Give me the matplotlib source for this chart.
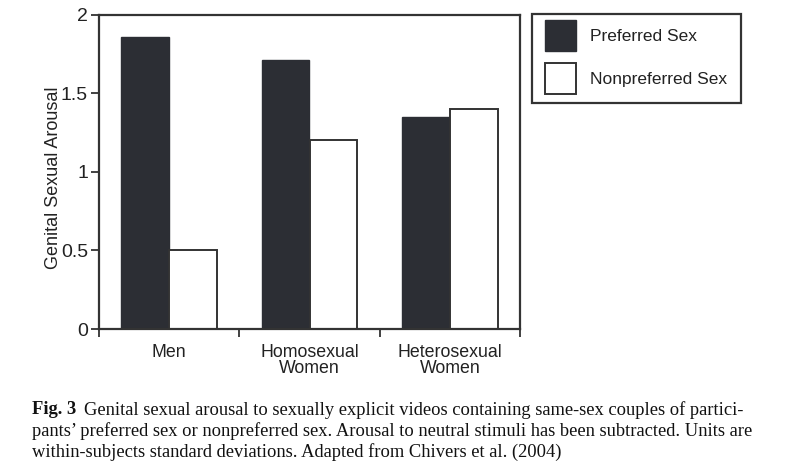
import matplotlib
matplotlib.use("Agg")
import matplotlib.pyplot as plt
import numpy as np
from matplotlib.patches import Patch, Rectangle

categories = ["Men", "Homosexual\nWomen", "Heterosexual\nWomen"]
preferred = [1.86, 1.71, 1.35]
nonpreferred = [0.50, 1.20, 1.40]
series_names = ["Preferred Sex", "Nonpreferred Sex"]
yticks = [0, 0.5, 1, 1.5, 2]
ytick_labels = ["0", "0.5", "1", "1.5", "2"]

dark = "#2c2e34"
edge = "#333333"
txt = "#222222"
plt.rcParams['font.family'] = ['Liberation Sans', 'DejaVu Sans']

W, H = 799, 476
fig = plt.figure(figsize=(W/100, H/100), dpi=100)
ax = fig.add_axes([99/W, 1-329/H, (520-99)/W, (329-14.7)/H])

x = np.arange(len(categories)) + 0.5
w = 0.34
ax.bar(x - w/2, preferred, width=w, color=dark, edgecolor=dark, linewidth=1.0)
ax.bar(x + w/2, nonpreferred, width=w, color="white", edgecolor=edge, linewidth=1.4)

ax.set_xlim(0, 3)
ax.set_ylim(0, 2)
ax.set_xticks([0, 1, 2, 3])
ax.set_xticklabels([])
ax.set_xticks(x, minor=True)
ax.set_xticklabels(categories, minor=True, fontsize=12.8, color=txt, linespacing=0.92)
ax.tick_params(axis='x', which='minor', length=0, pad=11)
ax.tick_params(axis='x', which='major', length=6, width=1.3, color=edge, direction='out')
ax.set_yticks(yticks)
ax.set_yticklabels(ytick_labels, fontsize=14, color=txt)
ax.tick_params(axis='y', length=6, width=1.3, color=edge, pad=2)
for s in ax.spines.values():
    s.set_linewidth(1.6)
    s.set_color(edge)
ax.set_ylabel("Genital Sexual Arousal", fontsize=13, color=txt)
ax.yaxis.set_label_coords(-37/421, 0.48)

# legend
fig.patches.append(Rectangle((532/W, 1-103/H), (741-532)/W, (103-14)/H, transform=fig.transFigure,
                             facecolor="white", edgecolor=edge, linewidth=1.6, zorder=0))
handles = [Patch(facecolor=dark, edgecolor=dark), Patch(facecolor="white", edgecolor=edge, linewidth=1.4)]
leg = fig.legend(handles, series_names, loc='upper left', bbox_to_anchor=(545/W, 1-20/H),
                 fontsize=12.5, frameon=False, handlelength=1.79, handleheight=2.37,
                 borderpad=0, labelspacing=0.72, handletextpad=0.8, borderaxespad=0)
for t in leg.get_texts():
    t.set_color(txt)

cap_font = ['Liberation Serif', 'DejaVu Serif']
cs = 13.3
cc = "#111111"
fig.text(32/W, 1-410/H, "Fig. 3", fontsize=cs, fontweight='bold', family=cap_font, va='center', color=cc)
fig.text(84/W, 1-410/H, "Genital sexual arousal to sexually explicit videos containing same-sex couples of partici-",
         fontsize=cs, family=cap_font, va='center', color=cc)
fig.text(32/W, 1-431/H, "pants\u2019 preferred sex or nonpreferred sex. Arousal to neutral stimuli has been subtracted. Units are",
         fontsize=cs, family=cap_font, va='center', color=cc)
fig.text(32/W, 1-452/H, "within-subjects standard deviations. Adapted from Chivers et al. (2004)",
         fontsize=cs, family=cap_font, va='center', color=cc)

fig.savefig("out.png", dpi=100)
